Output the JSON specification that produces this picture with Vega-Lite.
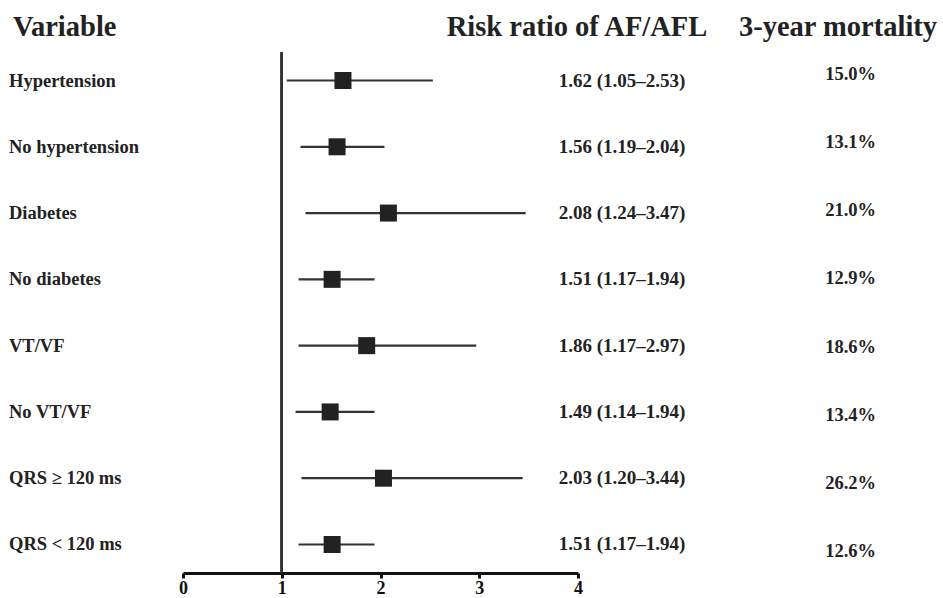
{
  "$schema": "https://vega.github.io/schema/vega-lite/v6.json",
  "padding": {"left": 0, "top": 12, "right": 0, "bottom": 0},
  "spacing": 0,
  "bounds": "flush",
  "config": {
    "view": {"stroke": null},
    "font": "Liberation Serif",
    "title": {"font": "Liberation Serif", "fontSize": 28.5, "fontWeight": "bold", "color": "#222", "baseline": "alphabetic", "offset": 11, "frame": "group"}
  },
  "data": {
    "values": [
      {"variable": "Hypertension", "rr": 1.62, "lo": 1.05, "hi": 2.53, "ci": "1.62 (1.05–2.53)", "mortality": 0.150},
      {"variable": "No hypertension", "rr": 1.56, "lo": 1.19, "hi": 2.04, "ci": "1.56 (1.19–2.04)", "mortality": 0.131},
      {"variable": "Diabetes", "rr": 2.08, "lo": 1.24, "hi": 3.47, "ci": "2.08 (1.24–3.47)", "mortality": 0.210},
      {"variable": "No diabetes", "rr": 1.51, "lo": 1.17, "hi": 1.94, "ci": "1.51 (1.17–1.94)", "mortality": 0.129},
      {"variable": "VT/VF", "rr": 1.86, "lo": 1.17, "hi": 2.97, "ci": "1.86 (1.17–2.97)", "mortality": 0.186},
      {"variable": "No VT/VF", "rr": 1.49, "lo": 1.14, "hi": 1.94, "ci": "1.49 (1.14–1.94)", "mortality": 0.134},
      {"variable": "QRS ≥ 120 ms", "rr": 2.03, "lo": 1.20, "hi": 3.44, "ci": "2.03 (1.20–3.44)", "mortality": 0.262},
      {"variable": "QRS < 120 ms", "rr": 1.51, "lo": 1.17, "hi": 1.94, "ci": "1.51 (1.17–1.94)", "mortality": 0.126}
    ]
  },
  "resolve": {"scale": {"y": "independent"}},
  "hconcat": [
    {
      "width": 183,
      "height": 521,
      "title": {"text": "Variable", "anchor": "start", "dx": 13},
      "mark": {"type": "text", "align": "left", "fontSize": 18.5, "fontWeight": "bold", "color": "#222", "dx": 9},
      "encoding": {
        "y": {"field": "variable", "type": "nominal", "sort": null, "scale": {"type": "point", "padding": 0.43}, "axis": null},
        "x": {"datum": 0, "type": "quantitative", "scale": {"domain": [0, 1]}, "axis": null},
        "text": {"field": "variable"}
      }
    },
    {
      "width": 395,
      "height": 521,
      "layer": [
        {
          "mark": {"type": "rule", "color": "#333", "strokeWidth": 2},
          "encoding": {"x": {"datum": 1, "type": "quantitative"}}
        },
        {
          "mark": {"type": "rule", "color": "#333", "strokeWidth": 2.2},
          "encoding": {
            "y": {"field": "variable", "type": "nominal", "sort": null, "scale": {"type": "point", "padding": 0.43}, "axis": null},
            "x": {
              "field": "lo", "type": "quantitative",
              "scale": {"domain": [0, 4], "nice": false, "zero": false},
              "axis": {
                "title": null, "values": [0, 0.5, 1, 1.5, 2, 2.5, 3, 3.5, 4],
                "format": "d",
                "labelExpr": "datum.value % 1 === 0 ? datum.label : ''",
                "grid": false, "domainColor": "#111", "domainWidth": 3,
                "tickColor": "#111", "tickWidth": 3, "tickSize": 5,
                "labelFont": "Liberation Serif", "labelFontSize": 18, "labelFontWeight": "bold",
                "labelColor": "#111", "labelPadding": 1, "labelFlush": false, "labelOverlap": false
              }
            },
            "x2": {"field": "hi"}
          }
        },
        {
          "mark": {"type": "point", "shape": "square", "filled": true, "size": 289, "color": "#222", "opacity": 1},
          "encoding": {
            "y": {"field": "variable", "type": "nominal", "sort": null, "scale": {"type": "point", "padding": 0.43}, "axis": null},
            "x": {"field": "rr", "type": "quantitative"}
          }
        }
      ]
    },
    {
      "width": 88,
      "height": 521,
      "title": {"text": "Risk ratio of AF/AFL", "anchor": "middle", "dx": -45},
      "mark": {"type": "text", "fontSize": 19, "fontWeight": "bold", "color": "#222"},
      "encoding": {
        "y": {"field": "variable", "type": "nominal", "sort": null, "scale": {"type": "point", "padding": 0.43}, "axis": null},
        "text": {"field": "ci"}
      }
    },
    {
      "width": 210,
      "height": 521,
      "title": {"text": "3-year mortality", "anchor": "middle", "dx": 67},
      "mark": {"type": "text", "align": "right", "fontSize": 18.5, "fontWeight": "bold", "color": "#222"},
      "encoding": {
        "y": {"field": "variable", "type": "nominal", "sort": null, "scale": {"type": "point", "padding": 0.33}, "axis": null},
        "x": {"datum": 1, "type": "quantitative", "scale": {"domain": [0, 1]}, "axis": null},
        "text": {"field": "mortality", "type": "quantitative", "format": ".1%"}
      }
    }
  ]
}
